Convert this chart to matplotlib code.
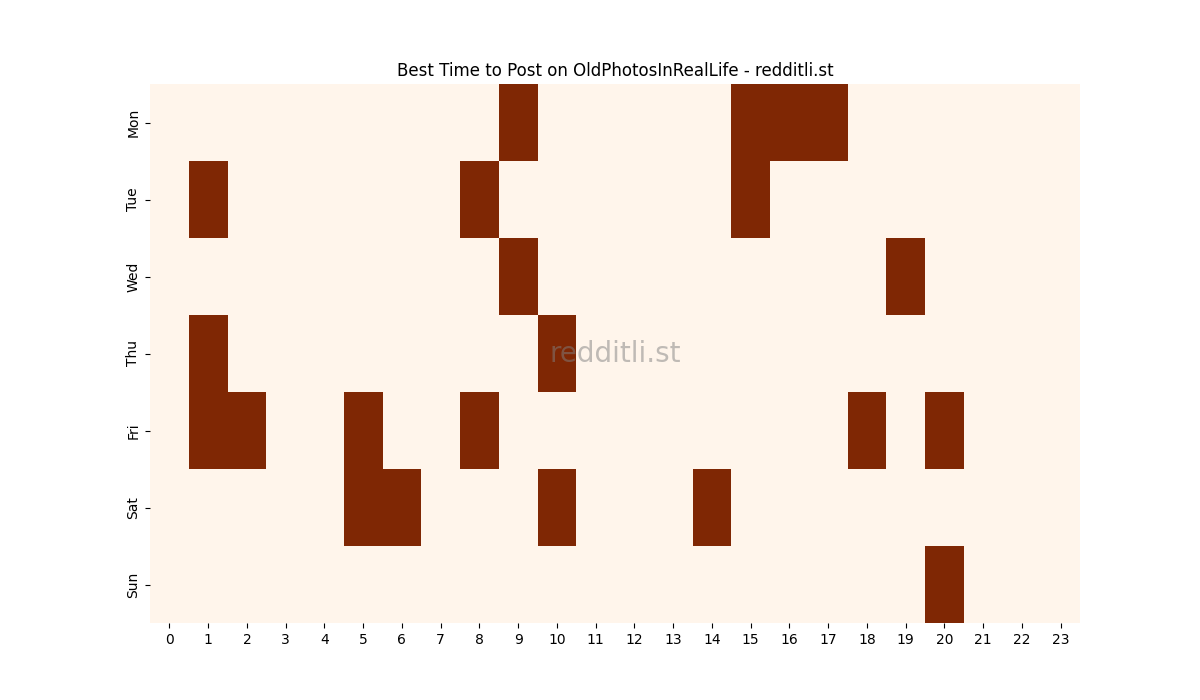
import numpy as np
import matplotlib
matplotlib.use("Agg")
import matplotlib.pyplot as plt

days = ["Mon", "Tue", "Wed", "Thu", "Fri", "Sat", "Sun"]
hours = list(range(24))
# hours marked as best time for each day
best_hours = {
    "Mon": [9, 15, 16, 17],
    "Tue": [1, 8, 15],
    "Wed": [9, 19],
    "Thu": [1, 10],
    "Fri": [1, 2, 5, 8, 18, 20],
    "Sat": [5, 6, 10, 14],
    "Sun": [20],
}

grid = np.zeros((len(days), len(hours)))
for i, d in enumerate(days):
    for h in best_hours[d]:
        grid[i, h] = 1

fig, ax = plt.subplots(figsize=(12, 7), dpi=100)
ax.pcolormesh(grid, cmap="Oranges", vmin=0, vmax=1)
ax.set_xlim(0, len(hours))
ax.set_ylim(len(days), 0)
ax.set_xticks(np.arange(len(hours)) + 0.5)
ax.set_xticklabels([str(h) for h in hours])
ax.set_yticks(np.arange(len(days)) + 0.5)
ax.set_yticklabels(days, rotation=90, va="center")
for s in ax.spines.values():
    s.set_visible(False)
ax.set_title("Best Time to Post on OldPhotosInRealLife - redditli.st")
ax.text(0.5, 0.5, "redditli.st", transform=ax.transAxes, ha="center", va="center",
        fontsize=20, color="grey", alpha=0.5)
fig.savefig("out.png")
